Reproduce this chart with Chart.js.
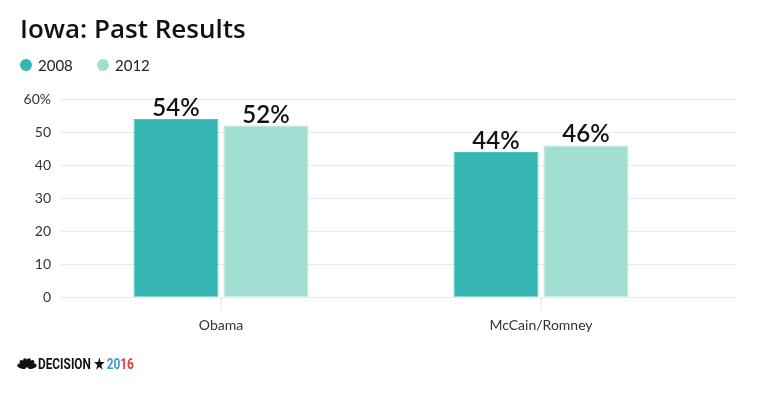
<!DOCTYPE html>
<html>
<head>
<meta charset="utf-8">
<script src="https://cdn.jsdelivr.net/npm/chart.js@4.4.0/dist/chart.umd.min.js"></script>
<style>
  html, body { margin: 0; padding: 0; background: #fff; }
  #wrap { width: 760px; height: 399px; position: relative; }
</style>
</head>
<body>
<div id="wrap"><canvas id="chart"></canvas></div>
<script>
const candidates = ["Obama", "McCain/Romney"];
const years = ["2008", "2012"];
const results2008 = [54, 44];
const results2012 = [52, 46];
const yTicks = [0, 10, 20, 30, 40, 50, 60];

const FONT = "Lato, 'Open Sans', sans-serif";

// grid lines run a bit past the last category
const gridExtend = {
    id: "gridExtend",
    beforeDatasetsDraw(chart) {
        const ctx = chart.ctx;
        const y = chart.scales.y;
        const area = chart.chartArea;
        ctx.save();
        ctx.strokeStyle = "#e9e9e9";
        ctx.lineWidth = 1;
        yTicks.forEach(t => {
            const py = Math.round(y.getPixelForValue(t) - 0.5) + 0.5;
            ctx.beginPath();
            ctx.moveTo(area.right, py);
            ctx.lineTo(chart.width - 24, py);
            ctx.stroke();
        });
        ctx.restore();
    }
};

// legend drawn by hand under the title
const dotLegend = {
    id: "dotLegend",
    afterDraw(chart) {
        const ctx = chart.ctx;
        const xs = [26, 103];
        ctx.save();
        ctx.font = "15px " + FONT;
        ctx.textBaseline = "middle";
        chart.data.datasets.forEach((ds, i) => {
            ctx.fillStyle = ds.backgroundColor;
            ctx.beginPath();
            ctx.arc(xs[i], 65, 6, 0, Math.PI * 2);
            ctx.fill();
            ctx.fillStyle = "#222";
            ctx.fillText(ds.label, xs[i] + 12, 66);
        });
        ctx.restore();
    }
};

// value labels above bars
const barLabels = {
    id: "barLabels",
    afterDatasetsDraw(chart) {
        const ctx = chart.ctx;
        ctx.save();
        ctx.font = "600 24px " + FONT;
        ctx.fillStyle = "#111";
        ctx.textAlign = "center";
        ctx.textBaseline = "alphabetic";
        chart.data.datasets.forEach((ds, i) => {
            chart.getDatasetMeta(i).data.forEach((bar, j) => {
                ctx.fillText(ds.data[j] + "%", bar.x, bar.y - 3);
            });
        });
        ctx.restore();
    }
};

// NBC Decision 2016 footer
const footerLogo = {
    id: "footerLogo",
    afterDraw(chart) {
        const ctx = chart.ctx;
        ctx.save();
        // peacock
        const bx = 27, by = 368;
        ctx.fillStyle = "#111";
        const angles = [-72, -43, -14, 14, 43, 72];
        angles.forEach(a => {
            ctx.save();
            ctx.translate(bx, by);
            ctx.rotate(a * Math.PI / 180);
            ctx.beginPath();
            ctx.ellipse(0, -5.5, 2.3, 4.6, 0, 0, Math.PI * 2);
            ctx.fill();
            ctx.restore();
        });
        // text
        ctx.textBaseline = "alphabetic";
        ctx.font = "bold 15px Roboto, sans-serif";
        ctx.save();
        ctx.translate(38, 368.5);
        ctx.scale(0.79, 1);
        ctx.fillStyle = "#111";
        ctx.fillText("DECISION", 0, 0);
        const w = ctx.measureText("DECISION").width;
        ctx.fillText("\u2605", w + 4, 0);
        const ws = ctx.measureText("\u2605").width;
        const x20 = w + ws + 7;
        ctx.fillStyle = "#3b9ad8";
        ctx.fillText("20", x20, 0);
        ctx.fillStyle = "#e2383f";
        ctx.fillText("16", x20 + ctx.measureText("20").width, 0);
        ctx.restore();
        ctx.restore();
    }
};

new Chart(document.getElementById("chart"), {
    type: "bar",
    data: {
        labels: candidates,
        datasets: [
            {
                label: years[0],
                data: results2008,
                backgroundColor: "#35b6b3",
                borderColor: "#4fc0bd",
                borderWidth: 1,
                categoryPercentage: 0.5625,
                barPercentage: 0.944
            },
            {
                label: years[1],
                data: results2012,
                backgroundColor: "#a2dfd3",
                borderColor: "#b3e5db",
                borderWidth: 1,
                categoryPercentage: 0.5625,
                barPercentage: 0.944
            }
        ]
    },
    options: {
        responsive: true,
        maintainAspectRatio: false,
        animation: false,
        layout: { padding: { left: 20, right: 59, top: 0, bottom: 57 } },
        plugins: {
            title: {
                display: true,
                text: "Iowa: Past Results",
                align: "start",
                color: "#111",
                font: { family: "'Open Sans', sans-serif", size: 26, weight: "600" },
                padding: { top: 15, bottom: 53 }
            },
            legend: { display: false },
            tooltip: { enabled: false }
        },
        scales: {
            x: {
                grid: { drawOnChartArea: false, drawTicks: true, tickLength: 12, offset: false, color: "#e6e6e6" },
                border: { display: false },
                ticks: { color: "#333", font: { family: FONT, size: 14 }, padding: 8 }
            },
            y: {
                min: 0,
                max: 60,
                afterFit(scale) { scale.width = 41; },
                grid: { color: "#e9e9e9", drawTicks: false },
                border: { display: false },
                ticks: {
                    stepSize: 10,
                    padding: 10,
                    color: "#333",
                    font: { family: FONT, size: 14 },
                    callback: v => v === 60 ? "60%" : v
                }
            }
        }
    },
    plugins: [gridExtend, dotLegend, barLabels, footerLogo]
});
</script>
</body>
</html>
